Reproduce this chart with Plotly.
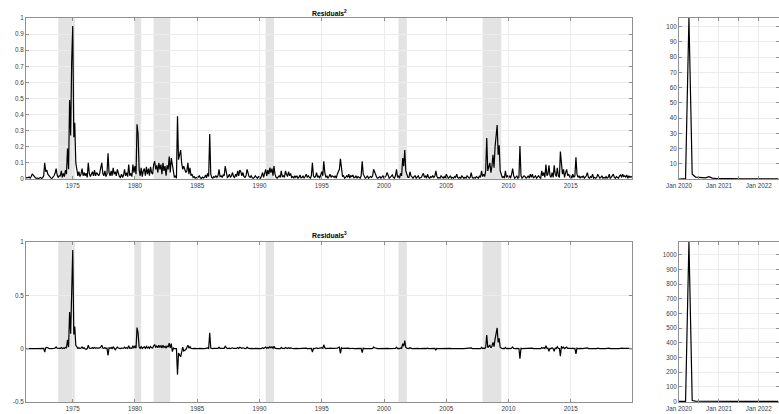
import numpy as np
import pandas as pd
import plotly.graph_objects as go

# Monthly squared residuals. A negative entry marks a month whose residual
# itself is negative (needed for the cubed series).
sq_1970s = [
    0.005, 0.01, 0.008, 0.012, 0.006, 0.015, 0.032, 0.022, 0.01,                 # 1971 Apr-Dec
    0.008, 0.004, 0.006, 0.003, 0.005, 0.01, 0.004, 0.008, 0.02, -0.1, 0.045, 0.055,   # 1972
    0.03, 0.02, 0.012, 0.006, 0.004, 0.01, 0.02, 0.035, 0.065, 0.025, 0.01, 0.02,     # 1973
    0.02, 0.05, 0.01, 0.035, 0.015, 0.055, 0.03, 0.19, 0.06, 0.49, 0.27, 0.73,        # 1974
    0.95, 0.26, 0.35, 0.1, 0.06, 0.02, 0.045, 0.015, 0.03, 0.065, 0.02, 0.04,         # 1975
    -0.02, -0.035, 0.01, 0.1, 0.035, 0.015, 0.03, 0.045, 0.02, 0.055, 0.02, 0.04,     # 1976
    0.03, 0.02, 0.035, 0.06, 0.1, 0.035, 0.02, 0.05, 0.015, 0.03, -0.16, 0.04,        # 1977
    0.02, 0.05, -0.02, 0.07, 0.03, -0.045, 0.02, 0.06, 0.035, 0.015, 0.01, 0.03,      # 1978
    0.01, 0.025, 0.06, 0.02, 0.04, 0.015, 0.09, 0.02, 0.035, 0.015, 0.09, 0.04,       # 1979
]
sq_1980s = [
    0.08, 0.03, 0.34, 0.28, 0.06, 0.02, 0.07, 0.015, 0.05, 0.065, 0.02, 0.075,        # 1980
    0.03, 0.065, 0.02, 0.075, 0.04, 0.03, 0.09, 0.11, 0.06, 0.085, 0.04, 0.1,         # 1981
    0.06, 0.09, 0.03, 0.1, 0.05, 0.08, 0.02, 0.085, 0.06, 0.14, 0.04, 0.13,           # 1982
    -0.09, 0.03, 0.01, 0.02, 0.005, -0.39, -0.12, -0.15, -0.18, -0.1, 0.06, -0.08,    # 1983
    -0.06, -0.04, 0.05, 0.1, 0.03, 0.07, 0.02, 0.03, 0.01, 0.015, 0.005, 0.01,        # 1984
    0.005, 0.01, 0.02, 0.008, 0.004, 0.012, 0.006, 0.01, 0.025, 0.008, 0.035, 0.015,  # 1985
    0.28, 0.03, 0.01, 0.005, 0.015, 0.01, 0.02, 0.01, 0.02, 0.06, 0.015, 0.02,        # 1986
    0.01, 0.025, 0.02, 0.08, 0.03, 0.01, 0.015, 0.03, 0.01, 0.02, 0.04, 0.015,        # 1987
    0.01, 0.03, 0.015, 0.05, 0.02, 0.055, 0.045, 0.02, 0.04, 0.015, 0.01, 0.02,       # 1988
    0.06, 0.03, 0.015, 0.01, 0.02, 0.008, 0.005, 0.01, 0.02, 0.01, 0.005, 0.015,      # 1989
]
sq_1990s = [
    0.01, 0.005, 0.02, 0.04, 0.01, 0.03, 0.06, 0.02, 0.055, 0.03, 0.07, 0.04,         # 1990
    0.065, 0.02, 0.08, 0.03, 0.01, 0.005, 0.01, 0.02, 0.01, 0.05, 0.015, 0.02,        # 1991
    0.01, 0.05, 0.03, 0.015, 0.045, 0.02, 0.035, 0.01, 0.015, 0.005, 0.02, 0.01,      # 1992
    0.02, 0.005, 0.01, 0.025, 0.008, 0.01, 0.02, 0.005, 0.015, 0.03, 0.01, 0.02,      # 1993
    0.01, 0.005, 0.02, -0.1, 0.02, 0.01, 0.015, 0.04, 0.01, 0.02, 0.005, 0.03,        # 1994
    0.045, 0.02, 0.11, 0.04, 0.01, 0.02, 0.005, 0.015, 0.03, 0.01, 0.02, 0.015,       # 1995
    0.01, 0.02, 0.005, 0.03, 0.05, 0.06, -0.125, 0.04, 0.015, 0.02, 0.005, 0.01,      # 1996
    0.02, 0.01, 0.03, 0.005, 0.02, 0.015, 0.025, 0.008, 0.01, 0.02, 0.005, 0.015,     # 1997
    0.01, 0.005, 0.02, -0.11, 0.03, 0.01, 0.005, 0.01, 0.02, 0.005, 0.01, 0.015,      # 1998
    0.01, 0.02, 0.06, 0.04, 0.02, 0.01, 0.005, 0.01, 0.015, 0.005, 0.01, 0.02,        # 1999
]
sq_2000s = [
    0.005, 0.01, 0.02, 0.04, 0.015, 0.005, 0.01, 0.02, 0.025, 0.01, 0.005, 0.02,      # 2000
    0.06, 0.01, 0.02, 0.005, 0.035, 0.02, 0.13, 0.08, 0.18, 0.05, 0.03, 0.01,         # 2001
    0.01, 0.045, 0.02, 0.01, 0.005, 0.015, 0.02, 0.005, 0.01, 0.02, 0.005, 0.01,      # 2002
    0.01, 0.025, 0.035, 0.01, 0.02, 0.005, 0.03, 0.01, 0.005, 0.015, 0.01, 0.02,      # 2003
    0.01, 0.02, -0.05, 0.015, 0.005, 0.01, 0.005, 0.02, 0.01, 0.005, 0.015, 0.005,    # 2004
    0.03, 0.01, 0.005, 0.01, 0.02, 0.005, 0.01, 0.005, 0.015, 0.01, 0.03, 0.01,       # 2005
    0.005, 0.01, 0.005, 0.02, 0.008, 0.004, 0.01, 0.005, 0.02, 0.01, 0.005, 0.01,     # 2006
    0.04, 0.01, 0.005, 0.01, 0.005, 0.015, 0.01, 0.005, 0.02, 0.01, 0.05, 0.015,      # 2007
    0.03, 0.015, 0.05, 0.255, 0.05, 0.09, 0.1, 0.04, 0.08, 0.15, 0.07, 0.2,           # 2008
    0.28, 0.335, 0.15, 0.21, 0.05, 0.02, 0.01, 0.015, 0.005, 0.05, 0.01, 0.02,        # 2009
]
sq_2010s = [
    0.01, 0.02, 0.005, 0.03, 0.065, 0.02, 0.005, 0.01, 0.02, 0.005, 0.01, -0.205,     # 2010
    0.02, 0.005, 0.01, 0.02, 0.015, 0.005, 0.01, 0.02, 0.005, 0.03, 0.01, 0.03,       # 2011
    0.005, 0.01, 0.02, 0.005, 0.01, 0.02, 0.01, 0.005, 0.05, 0.02, 0.04, 0.01,        # 2012
    0.09, 0.02, 0.03, -0.085, 0.02, 0.01, 0.04, 0.01, -0.085, 0.03, 0.015, 0.07,      # 2013
    0.02, 0.01, -0.17, 0.08, 0.03, 0.06, 0.01, 0.04, 0.06, 0.02, 0.03, 0.01,          # 2014
    0.02, 0.005, 0.03, 0.01, 0.02, -0.135, 0.03, 0.01, 0.02, 0.005, 0.015, 0.01,      # 2015
    0.02, 0.005, 0.01, 0.02, 0.04, 0.01, 0.005, 0.015, 0.01, 0.03, 0.005, 0.01,       # 2016
    0.005, 0.01, 0.03, 0.01, 0.005, 0.01, 0.02, 0.005, 0.01, 0.005, 0.015, 0.005,     # 2017
    0.01, 0.03, 0.005, 0.01, 0.02, 0.03, 0.01, 0.005, 0.015, 0.01, 0.005, 0.02,       # 2018
    0.025, 0.01, 0.03, 0.015, 0.02, 0.01, 0.025, 0.005, 0.02, 0.01, 0.015, 0.01,      # 2019
]
# Pandemic period, Jan 2020 onwards
sq_2020s = [
    0.02, 0.05, 0.3, 105.7, 3.2, 1.3, 1.0, 0.7, 0.8, 1.5, 0.6, 0.4,                   # 2020
    0.3, 0.2, 0.25, 0.15, 0.2, 0.1, 0.12, 0.08, 0.15, 0.1, 0.06, 0.1,                 # 2021
    0.05, 0.1, 0.2, 0.1, 0.15, 0.08, 0.05,                                            # 2022 Jan-Jul
]

# NBER recession periods (peak month, trough month)
rec_start = ["1973-11-01", "1980-01-01", "1981-07-01", "1990-07-01", "2001-03-01", "2007-12-01"]
rec_end = ["1975-03-01", "1980-07-01", "1982-11-01", "1991-03-01", "2001-11-01", "2009-06-01"]

hist_years = [str(y) for y in range(1975, 2020, 5)]

signed_hist = np.array(sq_1970s + sq_1980s + sq_1990s + sq_2000s + sq_2010s)
signed_covid = np.array(sq_2020s)
dates_hist = pd.date_range("1971-04-01", periods=len(signed_hist), freq="MS")
dates_covid = pd.date_range("2020-01-01", periods=len(signed_covid), freq="MS")


def squared(v):
    return np.abs(v)


def cubed(v):
    return np.sign(v) * np.abs(v) ** 1.5


W, H = 779, 414
FONT = "Liberation Sans, Arial, Helvetica, sans-serif"
FRAME = "#8f8f8f"
GRID = "#ececec"
BAND = "#e3e3e3"

xL = [26 / W, 632 / W]
xR = [679 / W, 778.5 / W]
yTop = [1 - 179 / H, 1 - 18 / H]
yBot = [1 - 402 / H, 1 - 242 / H]

fig = go.Figure()
line = dict(color="black", width=1.2)
fig.add_trace(go.Scatter(x=dates_hist, y=squared(signed_hist), mode="lines", line=line,
                         xaxis="x", yaxis="y", showlegend=False))
fig.add_trace(go.Scatter(x=dates_covid, y=squared(signed_covid), mode="lines", line=line,
                         xaxis="x2", yaxis="y2", showlegend=False))
fig.add_trace(go.Scatter(x=dates_hist, y=cubed(signed_hist), mode="lines", line=line,
                         xaxis="x3", yaxis="y3", showlegend=False))
fig.add_trace(go.Scatter(x=dates_covid, y=cubed(signed_covid), mode="lines", line=line,
                         xaxis="x4", yaxis="y4", showlegend=False))

axis_style = dict(
    automargin=False,
    showline=True, linecolor=FRAME, linewidth=1, mirror="ticks",
    ticks="inside", ticklen=3, tickcolor=FRAME, tickwidth=1,
    showgrid=True, gridcolor=GRID, gridwidth=1, zeroline=False,
    tickfont=dict(family=FONT, size=6.3, color="#3c3c3c"),
)

hist_range = [dates_hist[0], dates_hist[-1]]
covid_range = [dates_covid[0], dates_covid[-1]]
hist_tickvals = [f"{y}-01-01" for y in hist_years]

# Yearly labelled ticks, with half-year ticks and grid lines in between
covid_x = dict(axis_style, type="date", range=covid_range,
               tick0="2020-01-01", dtick="M12", tickformat="%b %Y",
               minor=dict(tick0="2020-01-01", dtick="M6", ticks="inside", ticklen=3,
                          tickcolor=FRAME, showgrid=True, gridcolor=GRID, gridwidth=1))

fig.update_layout(
    template="none",
    width=W, height=H,
    margin=dict(l=0, r=0, t=0, b=0, autoexpand=False),
    paper_bgcolor="white", plot_bgcolor="white",
    xaxis=dict(axis_style, domain=xL, anchor="y", type="date", range=hist_range,
               tickvals=hist_tickvals, ticktext=hist_years),
    yaxis=dict(axis_style, domain=yTop, anchor="x", range=[0, 1],
               tickvals=[i / 10 for i in range(11)],
               ticktext=["0"] + [f"0.{i}" for i in range(1, 10)] + ["1"]),
    xaxis2=dict(covid_x, domain=xR, anchor="y2"),
    yaxis2=dict(axis_style, domain=yTop, anchor="x2",
                range=[squared(signed_covid).min(), squared(signed_covid).max()],
                tickvals=list(range(10, 101, 10))),
    xaxis3=dict(axis_style, domain=xL, anchor="y3", type="date", range=hist_range,
                tickvals=hist_tickvals, ticktext=hist_years),
    yaxis3=dict(axis_style, domain=yBot, anchor="x3", range=[-0.5, 1],
                tickvals=[-0.5, 0, 0.5, 1], ticktext=["-0.5", "0", "0.5", "1"]),
    xaxis4=dict(covid_x, domain=xR, anchor="y4"),
    yaxis4=dict(axis_style, domain=yBot, anchor="x4",
                range=[-4, cubed(signed_covid).max()],
                tickvals=list(range(0, 1001, 100))),
)

# Recession shading on the long-history panels
for xr, yr in (("x", "y domain"), ("x3", "y3 domain")):
    for s, e in zip(rec_start, rec_end):
        fig.add_shape(type="rect", xref=xr, yref=yr, x0=s, x1=e, y0=0, y1=1,
                      fillcolor=BAND, line=dict(width=0), layer="below")

title_font = dict(family=FONT, size=6.8, color="black")
fig.add_annotation(text="<b>Residuals<sup>2</sup></b>", xref="paper", yref="paper",
                   x=(xL[0] + xL[1]) / 2, y=1 - 13 / H, showarrow=False,
                   xanchor="center", yanchor="middle", font=title_font)
fig.add_annotation(text="<b>Residuals<sup>3</sup></b>", xref="paper", yref="paper",
                   x=(xL[0] + xL[1]) / 2, y=1 - 235 / H, showarrow=False,
                   xanchor="center", yanchor="middle", font=title_font)

fig.write_html("out.html")
